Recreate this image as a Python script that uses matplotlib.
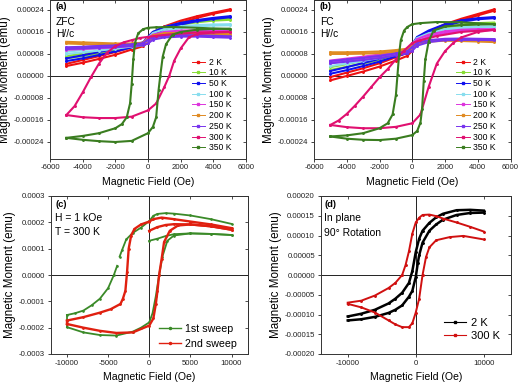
import matplotlib
matplotlib.use("Agg")
import matplotlib.pyplot as plt
from matplotlib.lines import Line2D
import numpy as np

plt.rcParams['font.family'] = ['Liberation Sans', 'DejaVu Sans']

# ---------------- data ----------------
temps = ["2 K", "10 K", "50 K", "100 K", "150 K", "200 K", "250 K", "300 K", "350 K"]
temp_colors = ['#ee1111', '#88dd33', '#1010ee', '#88ddee', '#dd33dd',
               '#e08a22', '#7733ee', '#e01070', '#3a7d20']

# common field grid for the small (low temperature) loops, Oe
H_small = [-5000, -4000, -3000, -2000, -1000, -300, 0, 300, 1000, 2000, 3000, 4000, 5000]

# panel (a) ZFC: upper (descending) / lower (ascending) branches
a_2K_up = [0.000044, 0.000058, 0.000072, 0.000087, 0.000104, 0.000118, 0.000140, 0.000158, 0.000180, 0.000201, 0.000217, 0.000230, 0.000242]
a_2K_lo = [0.000036, 0.000048, 0.000062, 0.000077, 0.000096, 0.000108, 0.000122, 0.000145, 0.000172, 0.000194, 0.000211, 0.000226, 0.000238]
a_10K_up = [0.000072, 0.000081, 0.000090, 0.000100, 0.000112, 0.000120, 0.000140, 0.000160, 0.000178, 0.000192, 0.000200, 0.000205, 0.000208]
a_10K_lo = [0.000064, 0.000072, 0.000081, 0.000092, 0.000104, 0.000112, 0.000124, 0.000148, 0.000170, 0.000186, 0.000195, 0.000201, 0.000204]
a_50K_up = [0.000064, 0.000075, 0.000087, 0.000099, 0.000112, 0.000122, 0.000142, 0.000160, 0.000178, 0.000193, 0.000203, 0.000211, 0.000217]
a_50K_lo = [0.000054, 0.000064, 0.000076, 0.000089, 0.000104, 0.000114, 0.000126, 0.000148, 0.000170, 0.000187, 0.000199, 0.000207, 0.000213]
a_100K_up = [0.000088, 0.000094, 0.000100, 0.000106, 0.000114, 0.000120, 0.000138, 0.000156, 0.000170, 0.000180, 0.000185, 0.000187, 0.000188]
a_100K_lo = [0.000080, 0.000086, 0.000092, 0.000099, 0.000107, 0.000113, 0.000122, 0.000144, 0.000162, 0.000174, 0.000180, 0.000183, 0.000184]
a_150K_up = [0.000102, 0.000105, 0.000108, 0.000111, 0.000115, 0.000120, 0.000136, 0.000150, 0.000160, 0.000165, 0.000166, 0.000165, 0.000163]
a_150K_lo = [0.000095, 0.000098, 0.000101, 0.000104, 0.000109, 0.000113, 0.000120, 0.000140, 0.000153, 0.000159, 0.000161, 0.000160, 0.000158]
a_200K_up = [0.000124, 0.000122, 0.000120, 0.000118, 0.000118, 0.000121, 0.000135, 0.000147, 0.000155, 0.000157, 0.000156, 0.000154, 0.000152]
a_200K_lo = [0.000118, 0.000116, 0.000114, 0.000112, 0.000112, 0.000114, 0.000120, 0.000138, 0.000149, 0.000152, 0.000151, 0.000149, 0.000147]
a_250K_up = [0.000104, 0.000106, 0.000109, 0.000111, 0.000115, 0.000119, 0.000132, 0.000140, 0.000146, 0.000148, 0.000148, 0.000146, 0.000144]
a_250K_lo = [0.000098, 0.000100, 0.000103, 0.000105, 0.000109, 0.000112, 0.000118, 0.000132, 0.000140, 0.000143, 0.000143, 0.000141, 0.000139]

a_300K_desc_H = [5000, 3000, 1500, 500, 0, -500, -1000, -1500, -2000, -2500, -3000, -3500, -4000, -4500, -5000]
a_300K_desc_M = [0.000160, 0.000158, 0.000152, 0.000146, 0.000142, 0.000138, 0.000130, 0.000122, 0.000108, 0.000085, 0.000045, -0.000005, -0.000060, -0.000110, -0.000142]
a_300K_asc_H = [-5000, -4000, -3000, -2000, -1000, 0, 500, 1000, 1300, 1600, 2000, 2500, 3000, 4000, 5000]
a_300K_asc_M = [-0.000142, -0.000150, -0.000153, -0.000153, -0.000148, -0.000125, -0.000100, -0.000040, 0.000000, 0.000055, 0.000100, 0.000140, 0.000152, 0.000158, 0.000160]
a_350K_desc_H = [5000, 3000, 1500, 500, 0, -300, -600, -800, -900, -1000, -1100, -1300, -1600, -2000, -3000, -4000, -5000]
a_350K_desc_M = [0.000170, 0.000175, 0.000178, 0.000177, 0.000175, 0.000170, 0.000155, 0.000120, 0.000060, -0.000030, -0.000100, -0.000150, -0.000175, -0.000190, -0.000208, -0.000218, -0.000225]
a_350K_asc_H = [-5000, -4000, -3000, -2000, -1000, 0, 300, 500, 650, 750, 900, 1100, 1500, 2000, 3000, 4000, 5000]
a_350K_asc_M = [-0.000225, -0.000232, -0.000237, -0.000240, -0.000236, -0.000208, -0.000185, -0.000150, -0.000050, 0.000000, 0.000070, 0.000115, 0.000150, 0.000160, 0.000168, 0.000171, 0.000172]

# panel (b) FC
b_2K_up = [-0.000004, 0.000012, 0.000028, 0.000046, 0.000068, 0.000085, 0.000110, 0.000135, 0.000160, 0.000188, 0.000208, 0.000225, 0.000242]
b_2K_lo = [-0.000016, 0.000000, 0.000016, 0.000034, 0.000056, 0.000073, 0.000092, 0.000122, 0.000150, 0.000180, 0.000202, 0.000220, 0.000237]
b_10K_up = [0.000032, 0.000043, 0.000055, 0.000068, 0.000083, 0.000094, 0.000115, 0.000138, 0.000158, 0.000177, 0.000187, 0.000192, 0.000194]
b_10K_lo = [0.000022, 0.000033, 0.000045, 0.000058, 0.000074, 0.000085, 0.000098, 0.000126, 0.000150, 0.000171, 0.000182, 0.000188, 0.000190]
b_50K_up = [0.000018, 0.000032, 0.000047, 0.000062, 0.000080, 0.000092, 0.000115, 0.000142, 0.000165, 0.000188, 0.000202, 0.000210, 0.000214]
b_50K_lo = [0.000008, 0.000021, 0.000036, 0.000052, 0.000071, 0.000083, 0.000097, 0.000130, 0.000157, 0.000182, 0.000197, 0.000206, 0.000210]
b_100K_up = [0.000046, 0.000055, 0.000064, 0.000074, 0.000087, 0.000096, 0.000115, 0.000138, 0.000155, 0.000170, 0.000177, 0.000180, 0.000181]
b_100K_lo = [0.000036, 0.000045, 0.000055, 0.000065, 0.000079, 0.000088, 0.000100, 0.000127, 0.000147, 0.000164, 0.000172, 0.000176, 0.000177]
b_150K_up = [0.000056, 0.000063, 0.000070, 0.000078, 0.000089, 0.000097, 0.000114, 0.000134, 0.000150, 0.000162, 0.000168, 0.000170, 0.000170]
b_150K_lo = [0.000048, 0.000055, 0.000062, 0.000070, 0.000082, 0.000090, 0.000100, 0.000124, 0.000143, 0.000156, 0.000163, 0.000166, 0.000166]
b_200K_up = [0.000086, 0.000086, 0.000087, 0.000089, 0.000094, 0.000099, 0.000110, 0.000122, 0.000130, 0.000132, 0.000131, 0.000129, 0.000127]
b_200K_lo = [0.000080, 0.000080, 0.000081, 0.000083, 0.000088, 0.000092, 0.000098, 0.000115, 0.000125, 0.000128, 0.000127, 0.000125, 0.000123]
b_250K_up = [0.000054, 0.000060, 0.000066, 0.000073, 0.000082, 0.000090, 0.000105, 0.000120, 0.000130, 0.000135, 0.000136, 0.000135, 0.000134]
b_250K_lo = [0.000046, 0.000052, 0.000058, 0.000065, 0.000075, 0.000082, 0.000092, 0.000110, 0.000123, 0.000130, 0.000131, 0.000131, 0.000130]

b_300K_desc_H = [5000, 3000, 1500, 500, 0, -500, -1000, -1500, -2000, -2500, -3000, -3500, -4000, -4500, -5000]
b_300K_desc_M = [0.000168, 0.000160, 0.000145, 0.000130, 0.000120, 0.000092, 0.000060, 0.000025, -0.000005, -0.000040, -0.000075, -0.000108, -0.000138, -0.000162, -0.000178]
b_300K_asc_H = [-5000, -4000, -3000, -2000, -1000, 0, 500, 1000, 1500, 2000, 2500, 3000, 4000, 5000]
b_300K_asc_M = [-0.000178, -0.000186, -0.000190, -0.000190, -0.000185, -0.000172, -0.000140, -0.000040, 0.000045, 0.000090, 0.000120, 0.000140, 0.000160, 0.000168]
b_350K_desc_H = [5000, 3000, 1500, 500, 0, -300, -500, -700, -800, -900, -1000, -1200, -1500, -2000, -3000, -4000, -5000]
b_350K_desc_M = [0.000188, 0.000195, 0.000196, 0.000192, 0.000188, 0.000178, 0.000165, 0.000130, 0.000080, 0.000005, -0.000070, -0.000140, -0.000172, -0.000190, -0.000208, -0.000216, -0.000220]
b_350K_asc_H = [-5000, -4000, -3000, -2000, -1000, 0, 300, 500, 600, 700, 800, 1000, 1300, 2000, 3000, 4000, 5000]
b_350K_asc_M = [-0.000220, -0.000228, -0.000232, -0.000233, -0.000228, -0.000215, -0.000200, -0.000170, -0.000120, -0.000020, 0.000060, 0.000125, 0.000165, 0.000180, 0.000185, 0.000187, 0.000188]

# panel (c) 300 K, H = 1 kOe: 1st and 2nd sweep
c1_init_H = [0, 1000, 2000, 3000, 5000, 7500, 10000]
c1_init_M = [0.000130, 0.000138, 0.000148, 0.000155, 0.000158, 0.000156, 0.000152]
c1_descA_H = [10000, 7500, 5000, 3000, 2000, 1000, 500, 0, -1000, -2000, -2800, -3300, -3600]
c1_descA_M = [0.000194, 0.000212, 0.000226, 0.000233, 0.000235, 0.000232, 0.000225, 0.000205, 0.000180, 0.000160, 0.000135, 0.000095, 0.000070]
c1_descB_H = [-3900, -4300, -5000, -6000, -7000, -8000, -9000, -10000]
c1_descB_M = [0.000035, 0.000000, -0.000050, -0.000090, -0.000115, -0.000135, -0.000145, -0.000152]
c1_asc_H = [-10000, -8000, -6000, -4000, -2000, -1000, 0, 400, 800, 1200, 1600, 2200, 3000, 5000, 7500, 10000]
c1_asc_M = [-0.000198, -0.000218, -0.000228, -0.000230, -0.000215, -0.000200, -0.000180, -0.000145, -0.000080, 0.000000, 0.000070, 0.000130, 0.000150, 0.000158, 0.000156, 0.000152]

c2_init_H = [0, 1000, 2000, 3000, 5000, 7500, 10000]
c2_init_M = [0.000168, 0.000182, 0.000190, 0.000193, 0.000192, 0.000185, 0.000172]
c2_desc_H = [10000, 7500, 5000, 3000, 1500, 500, 0, -1000, -1800, -2200, -2500, -2700, -2900, -3200, -3500, -4700, -6000, -8000, -10000]
c2_desc_M = [0.000178, 0.000192, 0.000203, 0.000212, 0.000218, 0.000212, 0.000203, 0.000192, 0.000175, 0.000150, 0.000100, 0.000010, -0.000060, -0.000090, -0.000110, -0.000130, -0.000143, -0.000160, -0.000173]
c2_asc_H = [-10000, -8000, -6000, -4000, -2000, 0, 500, 800, 1000, 1200, 1500, 1800, 2500, 3500, 5000, 7500, 10000]
c2_asc_M = [-0.000186, -0.000200, -0.000212, -0.000220, -0.000218, -0.000192, -0.000165, -0.000110, -0.000060, 0.000000, 0.000060, 0.000125, 0.000168, 0.000188, 0.000192, 0.000185, 0.000172]

# panel (d) in plane, 90 deg rotation
d2K_desc_H = [10000, 8000, 6000, 4000, 3000, 2000, 1000, 500, 0, -500, -1000, -2000, -3000, -4000, -6000, -8000, -10000]
d2K_desc_M = [0.000163, 0.000165, 0.000164, 0.000155, 0.000146, 0.000132, 0.000112, 0.000092, 0.000058, 0.000010, -0.000020, -0.000045, -0.000060, -0.000072, -0.000088, -0.000098, -0.000105]
d2K_asc_H = [-10000, -8000, -6000, -4000, -3000, -2000, -1000, -500, 0, 300, 500, 1000, 2000, 3000, 4000, 6000, 8000, 10000]
d2K_asc_M = [-0.000115, -0.000112, -0.000106, -0.000096, -0.000088, -0.000077, -0.000055, -0.000040, -0.000005, 0.000030, 0.000050, 0.000082, 0.000112, 0.000128, 0.000140, 0.000152, 0.000157, 0.000158]
d300K_desc_H = [10000, 8000, 6000, 4000, 3000, 2000, 1000, 500, 0, -500, -1000, -1500, -2000, -3000, -4000, -6000, -8000, -10000]
d300K_desc_M = [0.000110, 0.000122, 0.000133, 0.000143, 0.000149, 0.000153, 0.000152, 0.000145, 0.000133, 0.000105, 0.000060, 0.000025, 0.000000, -0.000020, -0.000033, -0.000052, -0.000065, -0.000070]
d300K_asc_H = [-10000, -8000, -6000, -4000, -3000, -2000, -1000, -500, 0, 500, 1000, 1500, 2000, 3000, 5000, 7000, 10000]
d300K_asc_M = [-0.000073, -0.000082, -0.000095, -0.000115, -0.000125, -0.000132, -0.000132, -0.000122, -0.000095, -0.000060, 0.000000, 0.000045, 0.000070, 0.000088, 0.000096, 0.000099, 0.000090]

a_small = [(a_2K_up, a_2K_lo), (a_10K_up, a_10K_lo), (a_50K_up, a_50K_lo), (a_100K_up, a_100K_lo),
           (a_150K_up, a_150K_lo), (a_200K_up, a_200K_lo), (a_250K_up, a_250K_lo)]
b_small = [(b_2K_up, b_2K_lo), (b_10K_up, b_10K_lo), (b_50K_up, b_50K_lo), (b_100K_up, b_100K_lo),
           (b_150K_up, b_150K_lo), (b_200K_up, b_200K_lo), (b_250K_up, b_250K_lo)]

# ---------------- figure ----------------
W, H = 520, 383
fig = plt.figure(figsize=(W / 100, H / 100), dpi=100)


def box(l, r, t, b):
    return [l / W, 1 - b / H, (r - l) / W, (b - t) / H]


TICK_FS = 5.6
XL_FS = 7.6
YL_FS = 8.4


def style(ax, xlim, ylim, xticks, yticks, yfmt, xpad=4.5):
    ax.set_xlim(*xlim)
    ax.set_ylim(*ylim)
    ax.set_xticks(xticks)
    ax.set_yticks(yticks)
    ax.set_xticklabels([f"{v:d}" for v in xticks])
    ax.set_yticklabels([yfmt.format(v) for v in yticks])
    ax.tick_params(axis='both', which='major', direction='out', length=2.5, width=0.6,
                   labelsize=TICK_FS, pad=1.5, colors='#222222')
    ax.tick_params(axis='both', which='major', top=False, right=False)
    # inward ticks on the top and right frame
    sx = ax.secondary_xaxis('top')
    sx.set_xticks(xticks)
    sx.tick_params(direction='in', length=2, width=0.6, labeltop=False, colors='#333333')
    sy = ax.secondary_yaxis('right')
    sy.set_yticks(yticks)
    sy.tick_params(direction='in', length=2, width=0.6, labelright=False, colors='#333333')
    for s in list(ax.spines.values()) + [sx.spines['top'], sy.spines['right']]:
        s.set_linewidth(0.7)
        s.set_color('#333333')
    ax.axhline(0, color='#222222', lw=0.7, zorder=1)
    ax.axvline(0, color='#222222', lw=0.7, zorder=1)
    ax.set_xlabel("Magnetic Field (Oe)", fontsize=XL_FS, labelpad=xpad)
    ax.set_ylabel("Magnetic Moment (emu)", fontsize=YL_FS, labelpad=2)


def loop(ax, Hd, Md, Ha, Ma, color, lw=1.5):
    ax.plot(Hd, Md, color=color, lw=lw, marker='o', ms=1.1, zorder=3)
    ax.plot(Ha, Ma, color=color, lw=lw, marker='o', ms=1.1, zorder=3)


def temp_panel(rect, small, big300, big350, label, cond):
    ax = fig.add_axes(rect)
    for (up, lo), col in zip(small, temp_colors[:7]):
        loop(ax, H_small, up, H_small, lo, col)
    loop(ax, *big300, temp_colors[7])
    loop(ax, *big350, temp_colors[8])
    yt = [-0.00024, -0.00016, -0.00008, 0.0, 0.00008, 0.00016, 0.00024]
    style(ax, (-6000, 6000), (-0.0003, 0.000276), [-6000, -4000, -2000, 0, 2000, 4000, 6000], yt, "{:.5f}")
    handles = [Line2D([], [], color=c, lw=0.7, marker='s', ms=1.8) for c in temp_colors]
    ax.legend(handles, temps, loc='upper left', bbox_to_anchor=(0.70, 0.664), frameon=False,
              fontsize=6.2, handlelength=1.6, handletextpad=0.4, labelspacing=0.2, borderpad=0)
    ax.text(0.03, 0.985, label, transform=ax.transAxes, fontsize=6.8, fontweight='bold', va='top')
    ax.text(0.03, 0.895, cond[0], transform=ax.transAxes, fontsize=7.4, va='top')
    ax.text(0.03, 0.82, cond[1], transform=ax.transAxes, fontsize=7.4, va='top')
    return ax


temp_panel(box(50, 246, 0, 158.5), a_small,
           (a_300K_desc_H, a_300K_desc_M, a_300K_asc_H, a_300K_asc_M),
           (a_350K_desc_H, a_350K_desc_M, a_350K_asc_H, a_350K_asc_M), "(a)", ("ZFC", "H//c"))
temp_panel(box(314, 510.5, 0, 158.5), b_small,
           (b_300K_desc_H, b_300K_desc_M, b_300K_asc_H, b_300K_asc_M),
           (b_350K_desc_H, b_350K_desc_M, b_350K_asc_H, b_350K_asc_M), "(b)", ("FC", "H//c"))

# panel (c)
green, red = '#3a8a28', '#e02010'
axc = fig.add_axes(box(50.5, 248, 196, 354))
for Hs, Ms in [(c1_init_H, c1_init_M), (c1_descA_H, c1_descA_M), (c1_descB_H, c1_descB_M), (c1_asc_H, c1_asc_M)]:
    axc.plot(Hs, Ms, color=green, lw=1.3, marker='o', ms=0.9, zorder=3)
axc.plot([c1_descB_H[-1], c1_asc_H[0]], [c1_descB_M[-1], c1_asc_M[0]], color=green, lw=1.3, zorder=3)
for Hs, Ms in [(c2_init_H, c2_init_M), (c2_desc_H, c2_desc_M), (c2_asc_H, c2_asc_M)]:
    axc.plot(Hs, Ms, color=red, lw=1.7, marker='o', ms=1.0, zorder=4)
axc.plot([c2_desc_H[-1], c2_asc_H[0]], [c2_desc_M[-1], c2_asc_M[0]], color=red, lw=1.7, zorder=4)
style(axc, (-12000, 12000), (-0.0003, 0.0003), [-10000, -5000, 0, 5000, 10000],
      [-0.0003, -0.0002, -0.0001, 0.0, 0.0001, 0.0002, 0.0003], "{:.4f}", xpad=4.0)
hc = [Line2D([], [], color=green, lw=1.0, marker='o', ms=1.5),
      Line2D([], [], color=red, lw=1.0, marker='o', ms=1.5)]
axc.legend(hc, ["1st sweep", "2nd sweep"], loc='lower right', bbox_to_anchor=(0.97, 0.0), frameon=False,
           fontsize=7.7, handlelength=2.0, handletextpad=0.4, labelspacing=0.42, borderpad=0)
axc.text(0.025, 0.975, "(c)", transform=axc.transAxes, fontsize=6.8, fontweight='bold', va='top')
axc.text(0.025, 0.89, "H = 1 kOe", transform=axc.transAxes, fontsize=7.5, va='top')
axc.text(0.025, 0.805, "T = 300 K", transform=axc.transAxes, fontsize=7.5, va='top')

# panel (d)
dred = '#d01010'
axd = fig.add_axes(box(320.5, 511, 196, 354))
loop(axd, d2K_desc_H, d2K_desc_M, d2K_asc_H, d2K_asc_M, 'black', lw=1.8)
loop(axd, d300K_desc_H, d300K_desc_M, d300K_asc_H, d300K_asc_M, dred, lw=1.4)
style(axd, (-14000, 14000), (-0.0002, 0.0002), [-10000, 0, 10000],
      [-0.0002, -0.00015, -0.0001, -0.00005, 0.0, 0.00005, 0.0001, 0.00015, 0.0002], "{:.5f}", xpad=4.0)
hd = [Line2D([], [], color='black', lw=0.8, marker='s', ms=1.8),
      Line2D([], [], color=dred, lw=0.8, marker='s', ms=1.8)]
axd.legend(hd, ["2 K", "300 K"], loc='lower right', bbox_to_anchor=(0.97, 0.05), frameon=False,
           fontsize=8, handlelength=2.0, handletextpad=0.4, labelspacing=0.25, borderpad=0)
axd.text(0.02, 0.975, "(d)", transform=axd.transAxes, fontsize=6.8, fontweight='bold', va='top')
axd.text(0.02, 0.89, "In plane", transform=axd.transAxes, fontsize=7.5, va='top')
axd.text(0.02, 0.80, "90° Rotation", transform=axd.transAxes, fontsize=7.5, va='top')

fig.savefig("out.png", dpi=100)
